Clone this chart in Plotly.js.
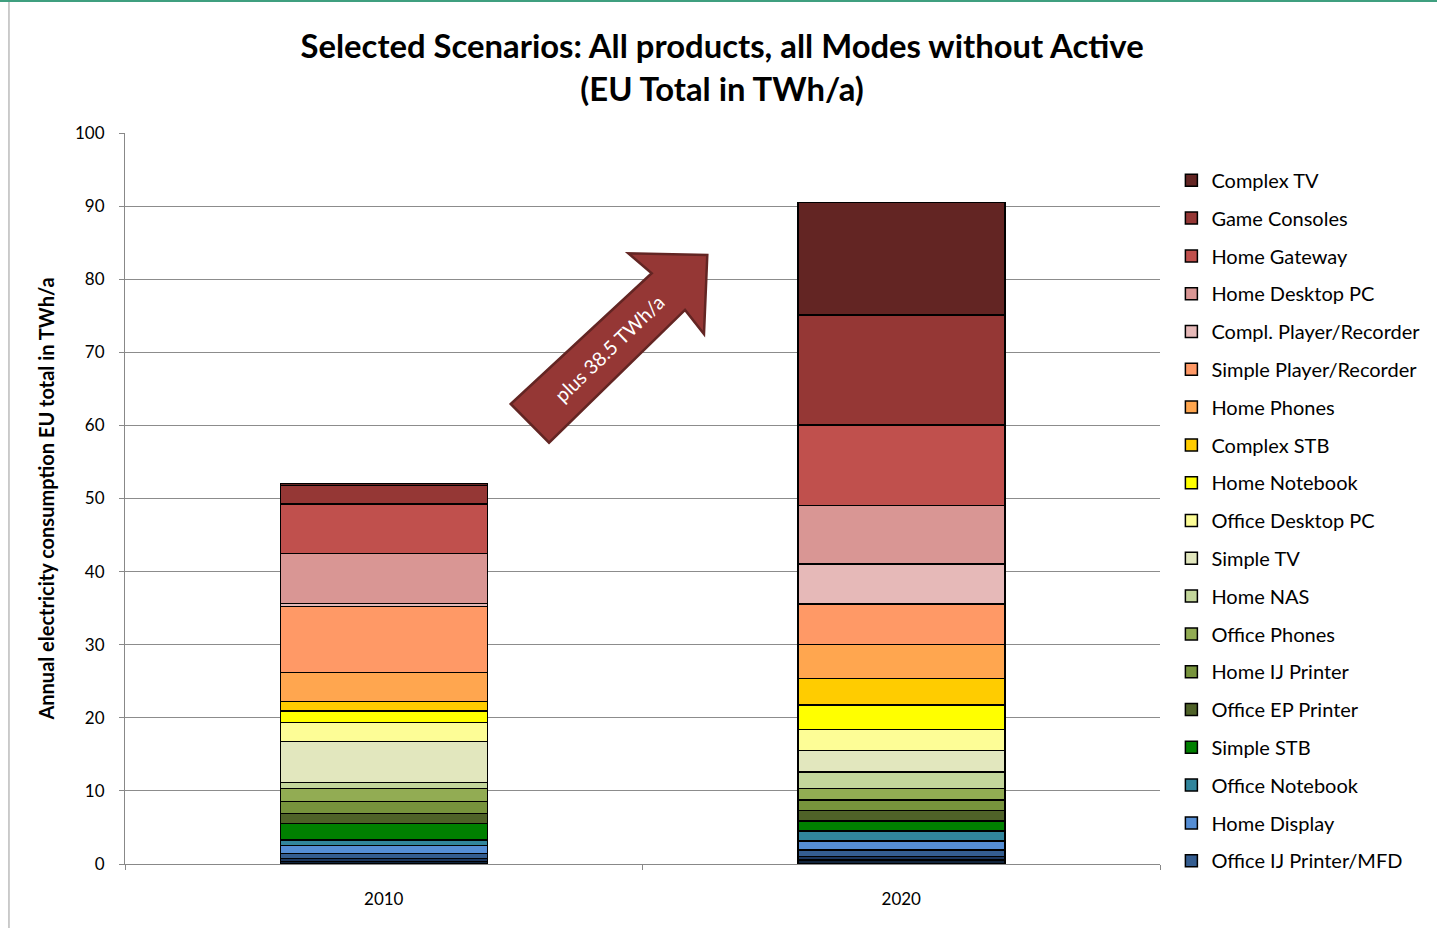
<!DOCTYPE html>
<html>
<head>
<meta charset="utf-8">
<script src="https://cdn.plot.ly/plotly-3.0.1.min.js"></script>
<style>html,body{margin:0;padding:0;background:#fff;}#chart{width:1437px;height:928px;}</style>
</head>
<body>
<div id="chart"></div>
<script>
// Categories
const years = ["2010", "2020"];

const seriesNames = [
  "Other (bottom 1)",
  "Other (bottom 2)",
  "Office IJ Printer/MFD",
  "Home Display",
  "Office Notebook",
  "Simple STB",
  "Office EP Printer",
  "Home IJ Printer",
  "Office Phones",
  "Home NAS",
  "Simple TV",
  "Office Desktop PC",
  "Home Notebook",
  "Complex STB",
  "Home Phones",
  "Simple Player/Recorder",
  "Compl. Player/Recorder",
  "Home Desktop PC",
  "Home Gateway",
  "Game Consoles",
  "Complex TV"
];
const values2010 = [0.31, 0.42, 0.73, 1.04, 0.78, 2.23, 1.37, 1.64, 1.78, 0.88, 5.55, 2.60, 1.60, 1.27, 4.02, 9.02, 0.37, 6.84, 6.80, 2.55, 0.28];
const values2020 = [0.55, 0.45, 0.90, 1.25, 1.35, 1.38, 1.41, 1.47, 1.59, 2.24, 2.96, 2.83, 3.37, 3.60, 4.65, 5.57, 5.47, 8.03, 10.98, 15.05, 15.42];
const inLegend = [false, false, true, true, true, true, true, true, true, true, true, true, true, true, true, true, true, true, true, true, true];
const seriesColors = [
  "#10233b", "#1c365c", "#345d90", "#558ed5", "#31859c", "#008000", "#4f6228",
  "#77933c", "#92ac53", "#c3d69b", "#e2e7be", "#fdfd96", "#ffff00", "#ffcc00",
  "#ffa64f", "#ff9966", "#e6b9b8", "#d99694", "#c0504d", "#953735", "#632523"
];

const yTicks = [0, 10, 20, 30, 40, 50, 60, 70, 80, 90, 100];
const arrowLabel = "plus 38.5 TWh/a";

const FONT = "Lato, 'Open Sans', 'DejaVu Sans', sans-serif";

const traces = seriesNames.map((name, i) => ({
  type: "bar",
  name: name,
  x: years,
  y: [values2010[i], values2020[i]],
  showlegend: inLegend[i],
  legendgroup: "g" + i,
  legendrank: 1000 - i,
  marker: { color: seriesColors[i], line: { color: "#000000", width: 1.5 } },
  hoverinfo: "name+y"
}));

const layout = {
  width: 1437,
  height: 928,
  paper_bgcolor: "#ffffff",
  plot_bgcolor: "#ffffff",
  margin: { l: 125, r: 277, t: 133, b: 64 },
  barmode: "stack",
  bargap: 0.6,
  font: { family: FONT, color: "#000000", size: 17 },
  title: {
    text: "<b>Selected Scenarios: All products, all Modes without Active<br>(EU Total in TWh/a)</b>",
    font: { family: FONT, size: 32.8, color: "#000000" },
    xref: "container", x: 0.5025, xanchor: "center",
    yref: "container", y: 1 - 58 / 928, yanchor: "middle"
  },
  xaxis: {
    type: "category",
    showgrid: false,
    showline: true, linecolor: "#888888", linewidth: 1,
    ticks: "outside", tickson: "boundaries", ticklen: 5, tickcolor: "#888888",
    tickfont: { family: FONT, size: 17, color: "#000000" },
    ticklabelstandoff: 20,
    zeroline: false
  },
  yaxis: {
    range: [0, 100],
    tickvals: yTicks,
    ticktext: yTicks.map(String),
    showgrid: true, gridcolor: "#8c8c8c", gridwidth: 1,
    showline: true, linecolor: "#888888", linewidth: 1,
    ticks: "outside", ticklen: 5, tickcolor: "#888888",
    tickfont: { family: FONT, size: 17, color: "#000000" },
    ticklabelstandoff: 11,
    zeroline: false,
    title: {
      text: "<b>Annual electricity consumption EU total in TWh/a</b>",
      font: { family: FONT, size: 20, color: "#000000" },
      standoff: 15
    }
  },
  legend: {
    traceorder: "grouped",
    tracegroupgap: 8.8,
    x: 1.011, xanchor: "left",
    y: 0.962, yanchor: "top",
    font: { family: FONT, size: 20, color: "#000000" },
    itemwidth: 30,
    bgcolor: "rgba(0,0,0,0)"
  },
  shapes: [
    {
      type: "path", xref: "paper", yref: "paper",
      path: "M0.3727,0.6293 L0.5089,0.8081 L0.4863,0.8354 L0.5626,0.8331 L0.5594,0.7250 L0.5411,0.7579 L0.4097,0.5763 Z",
      fillcolor: "#953735", line: { color: "#632523", width: 2.5 },
      label: {
        text: arrowLabel, textangle: -44, textposition: "middle center",
        font: { family: FONT, size: 19.5, color: "#ffffff" }
      }
    },
    {
      type: "line", xref: "paper", yref: "paper",
      x0: -0.1121, x1: -0.1121, y0: -0.09, y1: 1.185,
      line: { color: "#9a9a9a", width: 1 }
    },
    {
      type: "line", xref: "paper", yref: "paper",
      x0: -0.13, x1: 1.28, y0: 1.1805, y1: 1.1805,
      line: { color: "#3f9f7f", width: 2 }
    }
  ]
};

Plotly.newPlot("chart", traces, layout, { displayModeBar: false, staticPlot: true });
</script>
</body>
</html>
